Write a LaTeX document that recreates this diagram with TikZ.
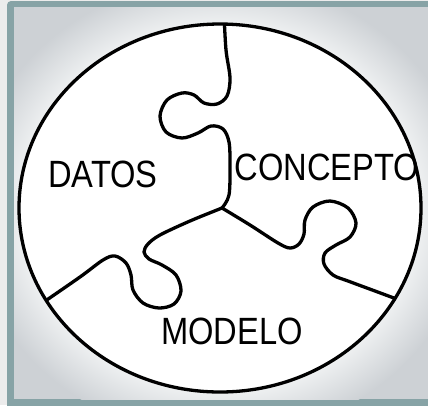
\documentclass[tikz,border=0pt]{standalone}
\usepackage{fontspec}
\setmainfont{Liberation Sans}[FakeStretch=0.86]
\definecolor{framecol}{HTML}{87A3A6}
\definecolor{bgcol}{HTML}{CDD1D5}
\definecolor{nearcol}{HTML}{EEF0F1}
\definecolor{outcol}{HTML}{ECECEC}
\pgfdeclareradialshading{glow}{\pgfpoint{0bp}{0bp}}{color(0bp)=(white); color(20bp)=(nearcol); color(25bp)=(bgcol); color(50bp)=(bgcol)}
\tikzset{
  piece/.style={line width=3.3pt, line join=round, line cap=round, black},
  label/.style={font=\fontsize{38}{42}\selectfont, inner sep=0pt, text=black}
}
\begin{document}
\begin{tikzpicture}[x=1pt,y=-1pt]
\useasboundingbox (0,0) rectangle (428,405);
\fill[outcol] (0,0) rectangle (428,405);
\fill[framecol, rounded corners=4pt] (7,1) rectangle (445,412);
\fill[bgcol] (14,7) rectangle (445,399);
\begin{scope}
  \clip (14,7) rectangle (445,399);
  \shade[shading=glow] (220,208) ellipse [x radius=251, y radius=230];
\end{scope}
\fill[white] (220,208) ellipse [x radius=201, y radius=184];
\begin{scope}
  \clip (220,208) ellipse [x radius=201, y radius=184];
  \draw[piece] plot[smooth, tension=0.55] coordinates {(224,14) (226,50) (230,78) (227,96) (217,104) (204,103) (194,95) (182,93) (167,100) (160,116) (166,132) (182,138) (198,133) (211,126) (223,129) (229,142) (230,165) (229,195) (222,208)};
  \draw[piece] plot[smooth, tension=0.55] coordinates {(222,208) (250,225) (278,243) (290,248) (299,244) (304,234) (305,220) (313,207) (330,201) (348,208) (356,223) (350,237) (336,245) (325,253) (324,264) (333,275) (348,281) (375,291) (410,304)};
  \draw[piece] plot[smooth, tension=0.55] coordinates {(222,208) (190,221) (160,235) (148,244) (144,252) (149,259) (162,265) (176,275) (181,291) (174,304) (159,308) (143,303) (133,290) (131,275) (126,263) (115,256) (103,260) (80,277) (38,306)};
\end{scope}
\draw[line width=3.3pt] (220,208) ellipse [x radius=201, y radius=184];
\node[label] (datos) at (103,174) {DATOS};
\node[label] (concepto) at (327,167) {CONCEPTO};
\node[label] (modelo) at (232,331) {MODELO};
\end{tikzpicture}
\end{document}
